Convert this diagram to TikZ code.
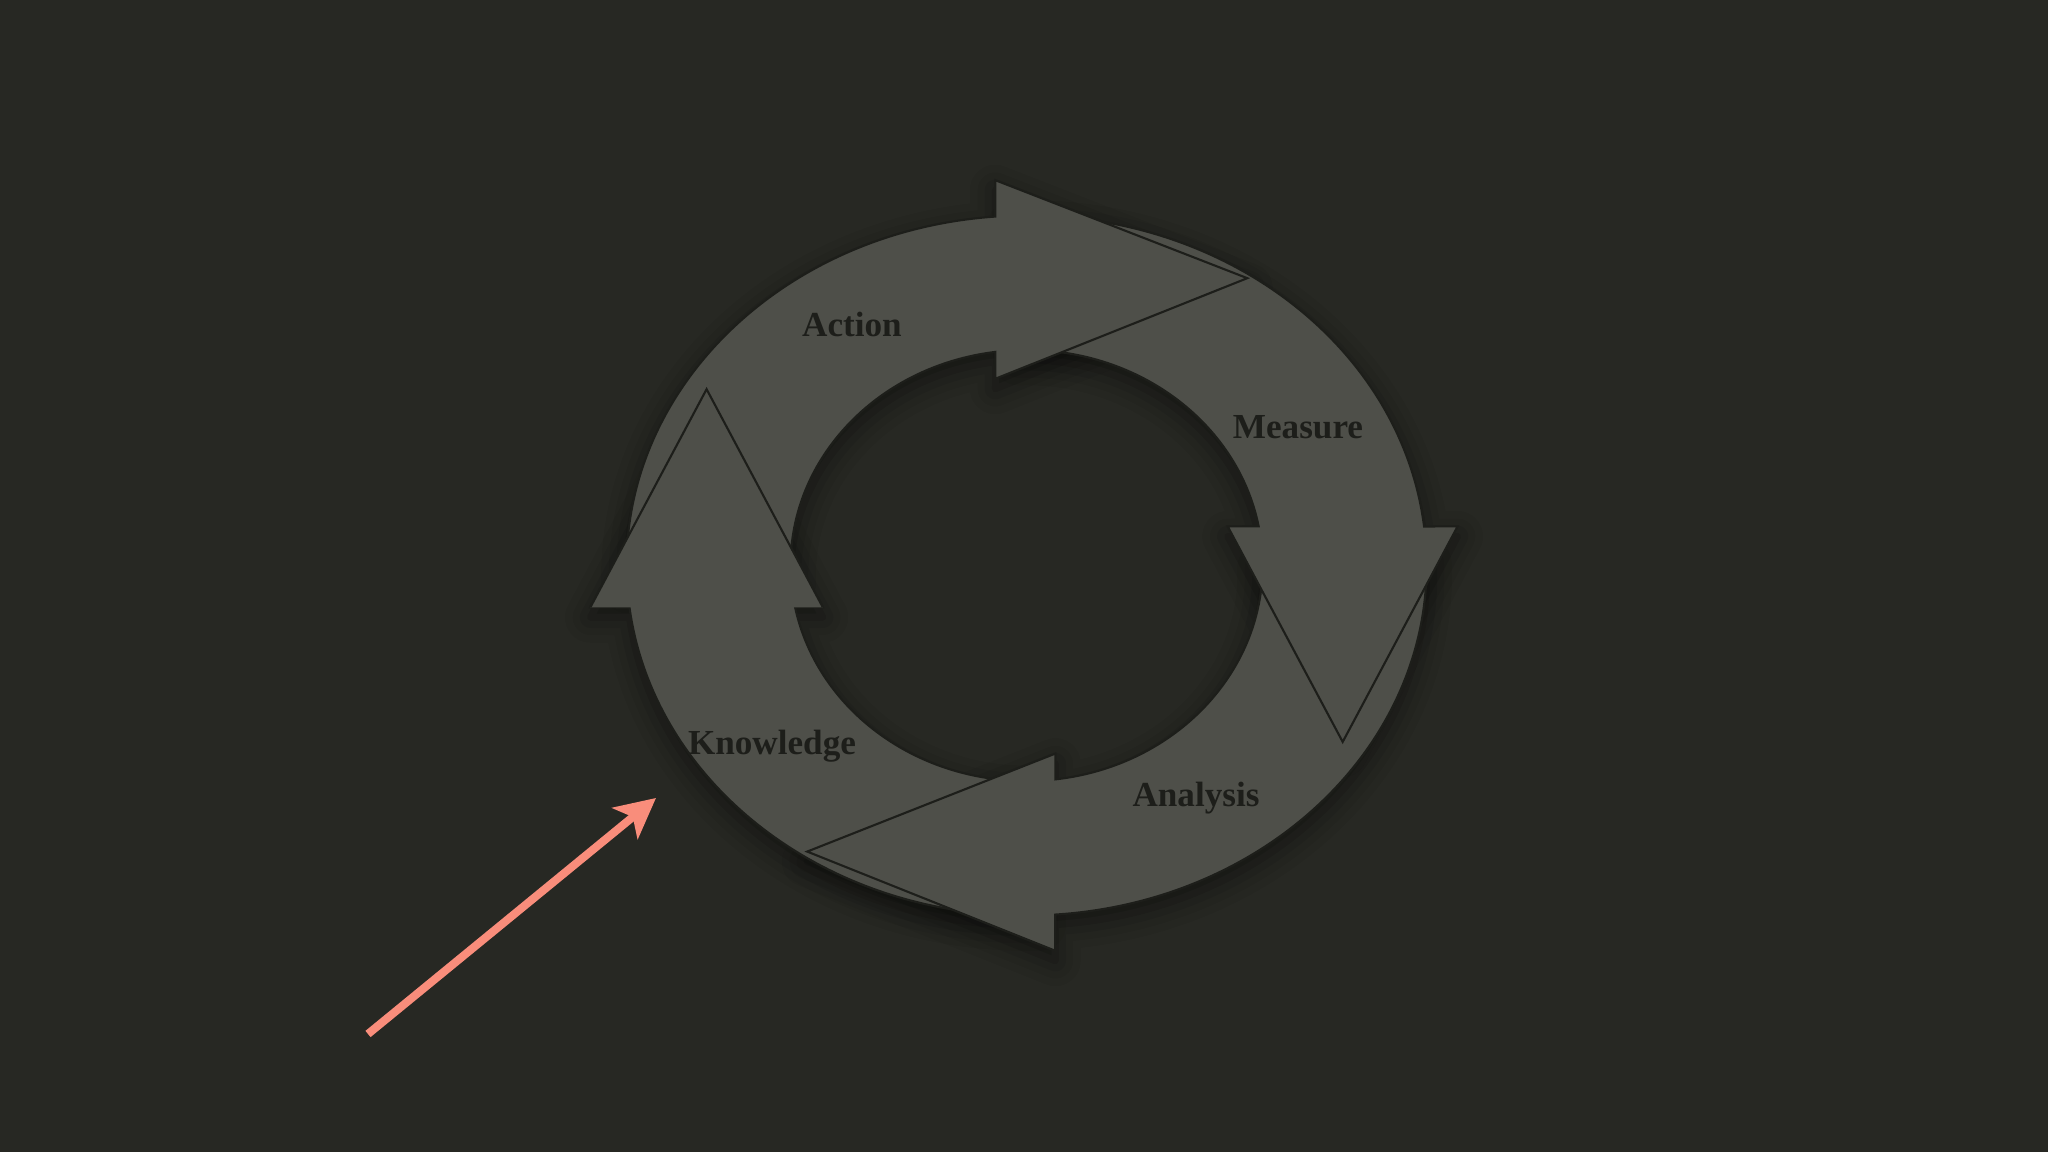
\documentclass[tikz,border=0pt]{standalone}
\usepackage{fontspec}
\setmainfont{Liberation Serif}
\usetikzlibrary{arrows.meta,calc,shadows.blur}
\definecolor{bg}{HTML}{272823}
\definecolor{band}{HTML}{4E4F49}
\definecolor{edge}{HTML}{1D1E1A}
\definecolor{salmon}{HTML}{F98D7B}

% the four curved arrows of the cycle
\newcommand\knowpath{($(c)+(272:4 and 3.5)$) arc[start angle=272,end angle=186.9,x radius=4,y radius=3.5]
  -- (5.904,5.447) -- (7.066,7.628) -- (8.228,5.447)
  -- ($(c)+(191.2:2.36 and 2.155)$) arc[start angle=191.2,end angle=272,x radius=2.36,y radius=2.155] -- cycle}
\newcommand\anapath{($(c)+(2:4 and 3.5)$) arc[start angle=2,end angle=-85.9,x radius=4,y radius=3.5]
  -- (10.553,2.012) -- (8.072,3.004) -- (10.553,3.984)
  -- ($(c)+(-83:2.36 and 2.155)$) arc[start angle=-83,end angle=2,x radius=2.36,y radius=2.155] -- cycle}
\newcommand\measpath{($(c)+(92:4 and 3.5)$) arc[start angle=92,end angle=6.4,x radius=4,y radius=3.5]
  -- (14.576,6.256) -- (13.427,4.101) -- (12.277,6.256)
  -- ($(c)+(10.5:2.36 and 2.155)$) arc[start angle=10.5,end angle=92,x radius=2.36,y radius=2.155] -- cycle}
\newcommand\actpath{($(c)+(182:4 and 3.5)$) arc[start angle=182,end angle=94.5,x radius=4,y radius=3.5]
  -- (9.953,9.718) -- (12.473,8.738) -- (9.953,7.732)
  -- ($(c)+(97.6:2.36 and 2.155)$) arc[start angle=97.6,end angle=182,x radius=2.36,y radius=2.155] -- cycle}

\tikzset{
  cyc/.style={fill=band,draw=edge,line width=0.6pt},
  shd/.style={blur shadow={shadow xshift=0mm,shadow yshift=-1mm,shadow blur radius=2.5mm,shadow opacity=50}},
  lbl/.style={text=edge,font=\bfseries}
}

\begin{document}
\begin{tikzpicture}
\fill[bg] (0,0) rectangle (20.48,11.52);
\coordinate (c) at (10.266,5.865);

% shadows first
\path[shd] \knowpath;
\path[shd] \anapath;
\path[shd] \measpath;
\path[shd] \actpath;

\draw[cyc] \knowpath;
\draw[cyc] \anapath;
\draw[cyc] \measpath;
\draw[cyc] \actpath;
% knowledge head again, on top of the action tail
\filldraw[cyc] (5.904,5.447) -- (7.066,7.628) -- (8.228,5.447);

\node[lbl] (act) at (8.52,8.28) {Action};
\node[lbl] (meas) at (12.98,7.25) {Measure};
\node[lbl] (ana) at (11.96,3.54) {Analysis};
\node[lbl] (know) at (7.72,4.06) {Knowledge};

\coordinate (ptr) at (3.68,1.18);
\coordinate (ptrtip) at (6.56,3.54);
\draw[salmon,line width=2.3pt,-{Stealth[length=4mm,width=4mm,inset=1mm]}] (ptr) -- (ptrtip);
\end{tikzpicture}
\end{document}
